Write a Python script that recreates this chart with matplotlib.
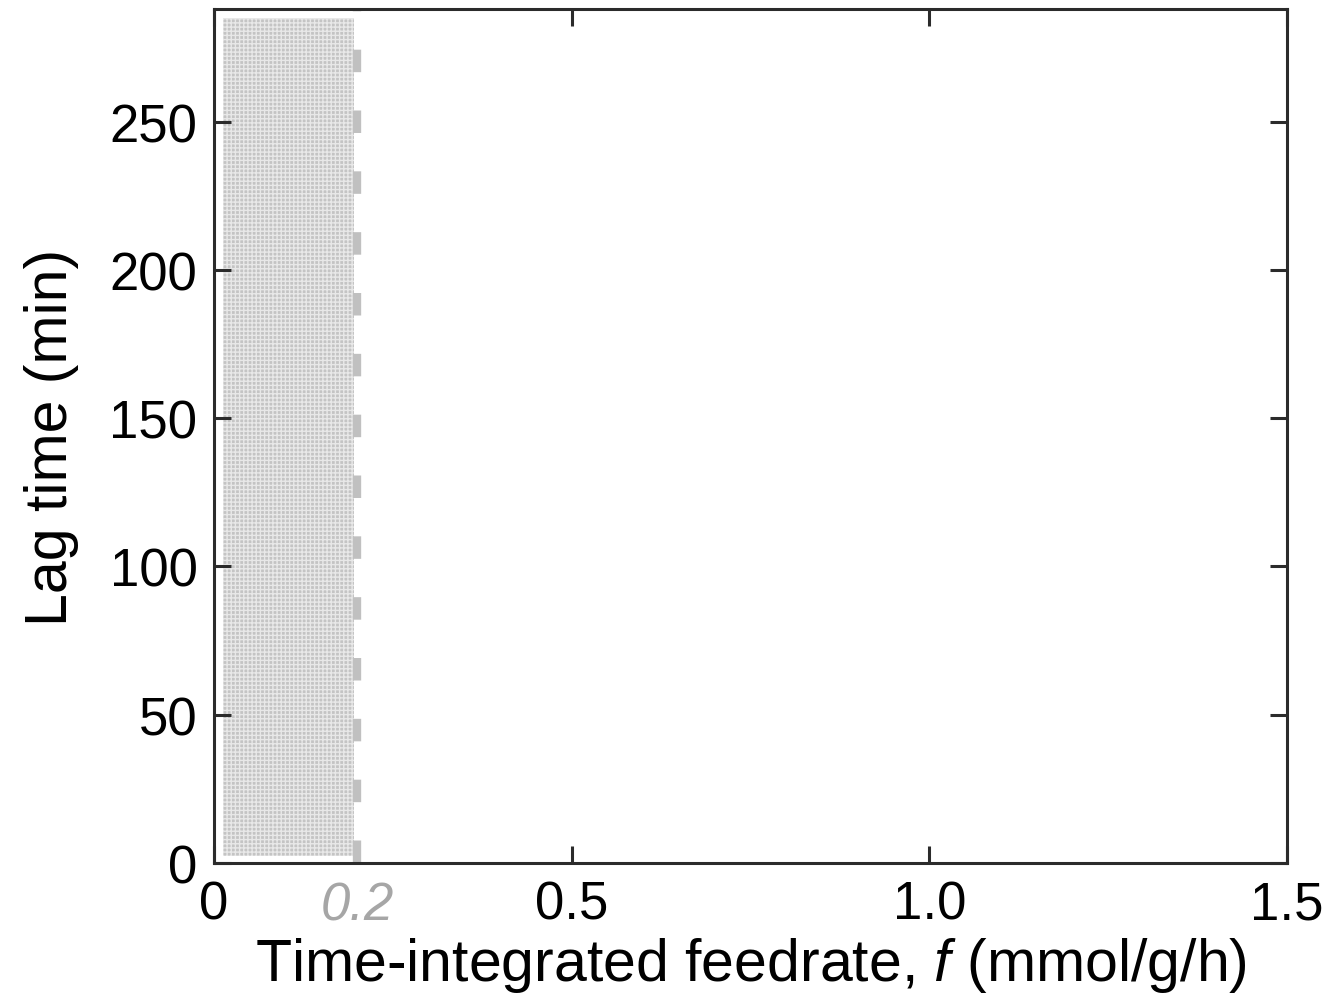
import numpy
import matplotlib
matplotlib.use("Agg")
import matplotlib.pyplot as plt

plt.rcParams['font.family'] = ['Liberation Sans', 'DejaVu Sans']
plt.rcParams['mathtext.fontset'] = 'custom'
plt.rcParams['mathtext.rm'] = 'Liberation Sans'
plt.rcParams['mathtext.it'] = 'Liberation Sans:italic'

# axis ranges and ticks
x_limits = [0.0, 1.5]
y_limits = [0.0, 288.0]
x_ticks = [0.0, 0.5, 1.0, 1.5]
x_tick_labels = ["0", "0.5", "1.0", "1.5"]
y_ticks = [0, 50, 100, 150, 200, 250]
y_tick_labels = ["0", "50", "100", "150", "200", "250"]

# threshold feedrate and shaded (infeasible) region
f_threshold = 0.2
shade_x = [0.012, 0.196]
shade_y = [2.5, 285.0]

fig = plt.figure(figsize=(13.38, 9.95), dpi=100)
ax = fig.add_axes([0.16, 0.1317, 0.802, 0.8583])

ax.fill_between(shade_x, shade_y[0], shade_y[1], facecolor='#c4c4c4',
                edgecolor='#e8e8e8', hatch='++++', linewidth=0)
ax.axvline(f_threshold, color='#c0c0c0', linewidth=6,
           dashes=(2.7, 4.6))

ax.set_xlim(*x_limits)
ax.set_ylim(*y_limits)
ax.set_xticks(x_ticks)
ax.set_xticklabels(x_tick_labels)
ax.set_yticks(y_ticks)
ax.set_yticklabels(y_tick_labels)
ax.tick_params(direction='in', length=12, width=2.2, color='#2b2b2b',
               labelsize=38, top=True, right=True, pad=12)
for s in ax.spines.values():
    s.set_linewidth(2.2)
    s.set_color('#2b2b2b')

ax.text(f_threshold, -0.02, "0.2", transform=ax.get_xaxis_transform(),
        ha='center', va='top', fontsize=38, style='italic', color='#a6a6a6')

ax.set_xlabel("Time-integrated feedrate, $\\it{f}$ (mmol/g/h)", fontsize=42.5,
              labelpad=4)
ax.set_ylabel("Lag time (min)", fontsize=42.5, labelpad=22)

fig.savefig("out.png", dpi=100)
